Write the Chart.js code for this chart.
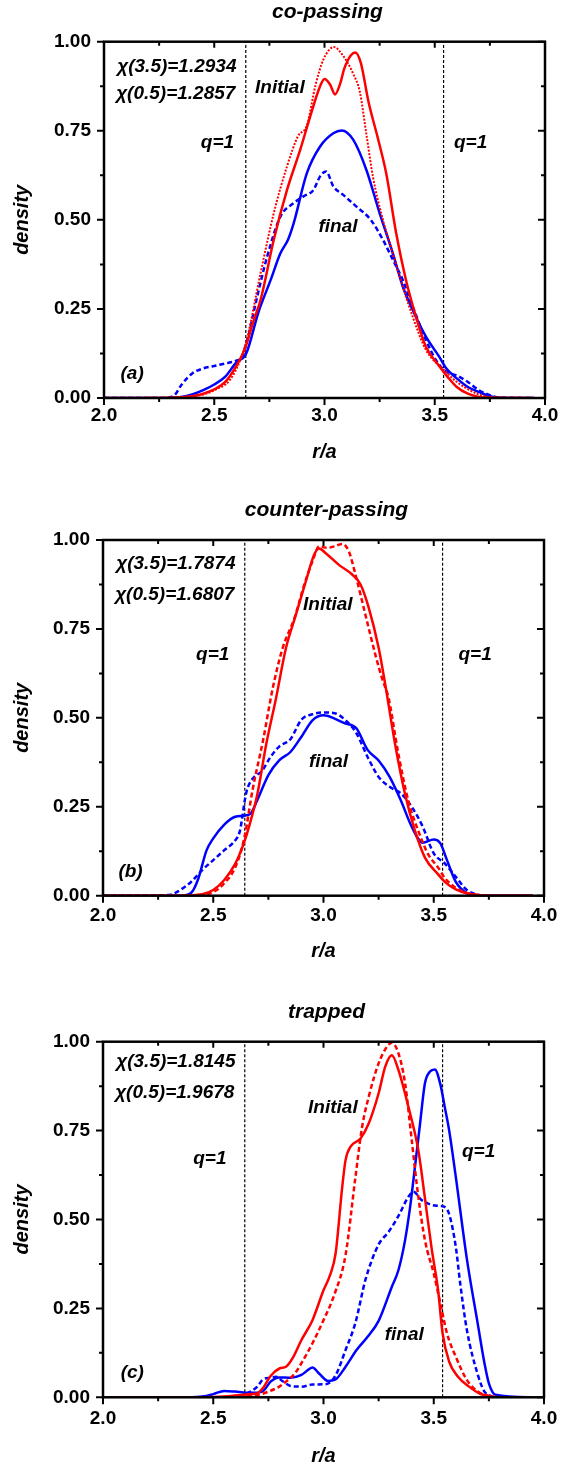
<!DOCTYPE html>
<html>
<head>
<meta charset="utf-8">
<script src="https://cdn.jsdelivr.net/npm/chart.js@4.4.0/dist/chart.umd.min.js"></script>
<style>
  body { margin: 0; background: #fff; }
  #wrap { position: relative; width: 575px; height: 1466px; }
  canvas { position: absolute; left: 0; }
</style>
</head>
<body>
<div id="wrap">
  <canvas id="pa" width="575" height="490" style="top:0px"></canvas>
  <canvas id="pb" width="575" height="490" style="top:490px"></canvas>
  <canvas id="pc" width="575" height="486" style="top:980px"></canvas>
</div>
<script>
// ---- data (r/a, density) ----
var panelTitles = ['co-passing', 'counter-passing', 'trapped'];
var panelTags = ['(a)', '(b)', '(c)'];
var chi35 = ['1.2934', '1.7874', '1.8145'];
var chi05 = ['1.2857', '1.6807', '1.9678'];
var qOneR = [2.643, 3.54];
var xTicks = [2.0, 2.5, 3.0, 3.5, 4.0];
var yTicks = [0.00, 0.25, 0.50, 0.75, 1.00];

// (a) co-passing
var aRedSolidR = [2.0, 2.3, 2.4, 2.45, 2.5, 2.55, 2.6, 2.64, 2.68, 2.71, 2.77, 2.83, 2.89, 2.935, 2.98, 3.0, 3.025, 3.048, 3.07, 3.09, 3.12, 3.14, 3.165, 3.2, 3.24, 3.28, 3.325, 3.37, 3.415, 3.46, 3.52, 3.56, 3.6, 3.65, 3.7, 3.75, 3.95];
var aRedSolidD = [0, 0.001, 0.005, 0.012, 0.024, 0.045, 0.09, 0.14, 0.22, 0.275, 0.444, 0.584, 0.697, 0.79, 0.875, 0.895, 0.88, 0.852, 0.88, 0.925, 0.962, 0.97, 0.94, 0.83, 0.734, 0.63, 0.463, 0.33, 0.228, 0.144, 0.09, 0.058, 0.031, 0.012, 0.003, 0.001, 0];
var aRedDotR = [2.0, 2.3, 2.4, 2.45, 2.5, 2.57, 2.62, 2.65, 2.71, 2.77, 2.83, 2.88, 2.92, 2.96, 2.995, 3.043, 3.085, 3.13, 3.16, 3.19, 3.22, 3.265, 3.31, 3.355, 3.4, 3.46, 3.54, 3.6, 3.65, 3.7, 3.75, 3.95];
var aRedDotD = [0, 0.001, 0.005, 0.01, 0.022, 0.05, 0.11, 0.17, 0.35, 0.519, 0.65, 0.735, 0.765, 0.88, 0.95, 0.985, 0.96, 0.91, 0.86, 0.74, 0.62, 0.5, 0.406, 0.313, 0.228, 0.135, 0.08, 0.045, 0.025, 0.01, 0.003, 0];
var aBlueSolidR = [2.0, 2.25, 2.35, 2.4, 2.45, 2.5, 2.55, 2.6, 2.645, 2.7, 2.755, 2.8, 2.835, 2.86, 2.92, 2.98, 3.04, 3.078, 3.13, 3.19, 3.25, 3.31, 3.355, 3.4, 3.46, 3.52, 3.55, 3.6, 3.65, 3.7, 3.75, 3.8, 3.95];
var aBlueSolidD = [0, 0, 0.003, 0.01, 0.022, 0.038, 0.06, 0.1, 0.125, 0.24, 0.33, 0.406, 0.445, 0.49, 0.631, 0.706, 0.743, 0.751, 0.725, 0.64, 0.519, 0.406, 0.313, 0.247, 0.172, 0.116, 0.085, 0.055, 0.031, 0.017, 0.005, 0.001, 0];
var aBlueDashR = [2.0, 2.27, 2.32, 2.35, 2.4, 2.45, 2.5, 2.55, 2.6, 2.625, 2.65, 2.695, 2.74, 2.8, 2.86, 2.905, 2.95, 2.98, 3.007, 3.04, 3.085, 3.145, 3.21, 3.265, 3.31, 3.355, 3.4, 3.46, 3.505, 3.55, 3.6, 3.65, 3.7, 3.75, 3.8, 3.95];
var aBlueDashD = [0, 0, 0.008, 0.036, 0.069, 0.083, 0.09, 0.097, 0.105, 0.115, 0.163, 0.285, 0.397, 0.509, 0.547, 0.566, 0.584, 0.622, 0.636, 0.594, 0.57, 0.537, 0.5, 0.444, 0.388, 0.331, 0.257, 0.163, 0.107, 0.075, 0.063, 0.045, 0.022, 0.008, 0.001, 0];

// (b) counter-passing
var bRedSolidR = [2.0, 2.35, 2.45, 2.5, 2.55, 2.6, 2.64, 2.665, 2.7, 2.74, 2.785, 2.83, 2.875, 2.92, 2.958, 2.98, 3.01, 3.07, 3.13, 3.168, 3.205, 3.25, 3.28, 3.325, 3.37, 3.415, 3.46, 3.52, 3.55, 3.6, 3.65, 3.7, 3.75, 3.95];
var bRedSolidD = [0, 0, 0.004, 0.016, 0.044, 0.09, 0.15, 0.2, 0.285, 0.425, 0.556, 0.697, 0.79, 0.884, 0.959, 0.976, 0.963, 0.93, 0.903, 0.875, 0.81, 0.697, 0.594, 0.425, 0.285, 0.182, 0.107, 0.06, 0.039, 0.018, 0.007, 0.002, 0, 0];
var bRedDashR = [2.0, 2.35, 2.45, 2.5, 2.55, 2.6, 2.64, 2.68, 2.725, 2.77, 2.815, 2.868, 2.913, 2.95, 2.98, 3.018, 3.048, 3.085, 3.115, 3.145, 3.19, 3.235, 3.265, 3.295, 3.34, 3.385, 3.43, 3.475, 3.52, 3.55, 3.6, 3.65, 3.7, 3.75, 3.95];
var bRedDashD = [0, 0, 0.002, 0.01, 0.035, 0.08, 0.16, 0.303, 0.434, 0.584, 0.697, 0.78, 0.875, 0.94, 0.982, 0.978, 0.982, 0.989, 0.968, 0.903, 0.79, 0.678, 0.612, 0.556, 0.397, 0.266, 0.182, 0.116, 0.079, 0.05, 0.022, 0.008, 0.002, 0, 0];
var bBlueSolidR = [2.0, 2.35, 2.4, 2.43, 2.47, 2.5, 2.55, 2.6, 2.64, 2.67, 2.7, 2.75, 2.8, 2.85, 2.9, 2.95, 3.0, 3.05, 3.1, 3.13, 3.15, 3.2, 3.25, 3.3, 3.35, 3.4, 3.45, 3.5, 3.53, 3.56, 3.6, 3.65, 3.7, 3.95];
var bBlueSolidD = [0, 0, 0.008, 0.044, 0.128, 0.161, 0.2, 0.222, 0.225, 0.231, 0.269, 0.339, 0.381, 0.404, 0.447, 0.493, 0.507, 0.498, 0.484, 0.479, 0.47, 0.41, 0.38, 0.334, 0.269, 0.194, 0.149, 0.158, 0.147, 0.1, 0.039, 0.007, 0, 0];
var bBlueDashR = [2.0, 2.3, 2.35, 2.4, 2.45, 2.5, 2.55, 2.6, 2.62, 2.65, 2.68, 2.72, 2.76, 2.8, 2.85, 2.9, 2.95, 3.0, 3.05, 3.1, 3.15, 3.2, 3.25, 3.3, 3.35, 3.4, 3.45, 3.5, 3.55, 3.6, 3.65, 3.7, 3.75, 3.95];
var bBlueDashD = [0, 0.002, 0.016, 0.039, 0.072, 0.1, 0.128, 0.156, 0.18, 0.29, 0.33, 0.35, 0.39, 0.42, 0.44, 0.495, 0.51, 0.515, 0.513, 0.493, 0.456, 0.39, 0.334, 0.306, 0.288, 0.25, 0.194, 0.119, 0.091, 0.053, 0.016, 0.003, 0, 0];

// (c) trapped
var cRedSolidR = [2.0, 2.45, 2.55, 2.65, 2.7, 2.73, 2.76, 2.8, 2.83, 2.86, 2.9, 2.95, 3.0, 3.03, 3.055, 3.085, 3.1, 3.123, 3.168, 3.205, 3.25, 3.28, 3.31, 3.34, 3.385, 3.43, 3.46, 3.49, 3.52, 3.54, 3.57, 3.61, 3.66, 3.71, 3.76, 3.8, 3.95];
var cRedSolidD = [0, 0, 0.002, 0.008, 0.011, 0.03, 0.06, 0.081, 0.086, 0.11, 0.161, 0.217, 0.301, 0.344, 0.405, 0.592, 0.667, 0.705, 0.728, 0.77, 0.855, 0.93, 0.962, 0.92, 0.817, 0.695, 0.56, 0.42, 0.3, 0.18, 0.1, 0.058, 0.03, 0.01, 0.002, 0, 0];
var cRedDashR = [2.0, 2.5, 2.6, 2.7, 2.75, 2.8, 2.83, 2.87, 2.9, 2.95, 3.0, 3.05, 3.1, 3.145, 3.175, 3.205, 3.25, 3.288, 3.31, 3.34, 3.37, 3.4, 3.43, 3.46, 3.5, 3.53, 3.56, 3.6, 3.65, 3.7, 3.75, 3.8, 3.95];
var cRedDashD = [0, 0, 0.002, 0.006, 0.016, 0.03, 0.044, 0.067, 0.096, 0.152, 0.217, 0.29, 0.4, 0.62, 0.76, 0.845, 0.939, 0.986, 0.997, 0.967, 0.883, 0.724, 0.564, 0.442, 0.348, 0.264, 0.18, 0.114, 0.049, 0.016, 0.004, 0, 0];
var cBlueSolidR = [2.0, 2.4, 2.45, 2.5, 2.55, 2.6, 2.65, 2.7, 2.73, 2.76, 2.8, 2.85, 2.9, 2.93, 2.95, 2.98, 3.02, 3.06, 3.1, 3.15, 3.2, 3.25, 3.31, 3.34, 3.37, 3.393, 3.415, 3.438, 3.46, 3.483, 3.505, 3.53, 3.55, 3.57, 3.6, 3.65, 3.7, 3.73, 3.75, 3.78, 3.95];
var cBlueSolidD = [0, 0, 0.002, 0.009, 0.018, 0.016, 0.013, 0.013, 0.02, 0.044, 0.056, 0.055, 0.063, 0.077, 0.084, 0.067, 0.046, 0.053, 0.086, 0.133, 0.17, 0.215, 0.311, 0.358, 0.442, 0.536, 0.649, 0.77, 0.883, 0.916, 0.922, 0.88, 0.816, 0.75, 0.62, 0.39, 0.205, 0.096, 0.039, 0.007, 0];
var cBlueDashR = [2.0, 2.55, 2.6, 2.65, 2.7, 2.725, 2.76, 2.785, 2.815, 2.85, 2.9, 2.95, 3.01, 3.055, 3.1, 3.145, 3.19, 3.25, 3.295, 3.34, 3.385, 3.408, 3.445, 3.49, 3.53, 3.55, 3.57, 3.6, 3.62, 3.65, 3.7, 3.73, 3.75, 3.78, 3.95];
var cBlueDashD = [0, 0, 0.003, 0.01, 0.03, 0.05, 0.055, 0.058, 0.045, 0.032, 0.03, 0.036, 0.037, 0.062, 0.133, 0.21, 0.33, 0.43, 0.465, 0.51, 0.564, 0.578, 0.555, 0.541, 0.538, 0.535, 0.515, 0.423, 0.32, 0.19, 0.063, 0.016, 0.007, 0, 0];

// ---- drawing ----
var FAM = '"Liberation Sans", Arial, sans-serif';
var RED = '#ff0000', BLUE = '#0000ff';
Chart.defaults.font.family = FAM;

function pairs(r, d) {
  return r.map(function(v, i) { return { x: v, y: d[i] }; });
}

function line(r, d, color, dash, width) {
  return {
    data: pairs(r, d), borderColor: color, borderWidth: width || 2.5,
    borderDash: dash || [], pointRadius: 0, fill: false,
    cubicInterpolationMode: 'monotone', tension: 0.4
  };
}

// box, mirrored ticks, title and the in-plot notes
function framePlugin(p) {
  return {
    id: 'frame',
    afterDatasetsDraw: function(chart) {
      var ctx = chart.ctx, a = chart.chartArea;
      var xs = chart.scales.x, ys = chart.scales.y;
      ctx.save();
      ctx.strokeStyle = '#000';
      ctx.lineWidth = 2;
      ctx.beginPath();
      for (var i = 0; i <= 8; i++) {
        var px = xs.getPixelForValue(2 + i * 0.25);
        var maj = i % 2 === 0;
        ctx.moveTo(px, a.bottom); ctx.lineTo(px, a.bottom + (maj ? 7 : 4));
        ctx.moveTo(px, a.top); ctx.lineTo(px, a.top + (maj ? 6 : 4));
      }
      for (var j = 0; j <= 8; j++) {
        var py = ys.getPixelForValue(j * 0.125);
        var majY = j % 2 === 0;
        ctx.moveTo(a.left, py); ctx.lineTo(a.left - (majY ? 7 : 4), py);
        ctx.moveTo(a.right, py); ctx.lineTo(a.right - (majY ? 7 : 4), py);
      }
      ctx.stroke();
      ctx.lineWidth = 2.5;
      ctx.strokeRect(a.left, a.top, a.right - a.left, a.bottom - a.top);

      ctx.fillStyle = '#000';
      ctx.textBaseline = 'middle';
      ctx.font = 'italic bold 21px ' + FAM;
      ctx.textAlign = 'center';
      ctx.fillText(p.title, (a.left + a.right) / 2 + 3, a.top - 29.5);

      ctx.font = 'italic bold 19px ' + FAM;
      p.notes.forEach(function(n) {
        ctx.textAlign = n.align;
        ctx.fillText(n.text, xs.getPixelForValue(n.r), ys.getPixelForValue(n.d));
      });
      ctx.restore();
    }
  };
}

function makePanel(id, k, series, layout, spots) {
  var ds = series.slice();
  qOneR.forEach(function(q) {
    ds.push({ data: [{ x: q, y: 0 }, { x: q, y: 1 }], borderColor: '#000', borderWidth: 1.2,
              borderDash: [3, 2], pointRadius: 0, tension: 0 });
  });
  var notes = [
    { text: '\u03c7(3.5)=' + chi35[k], r: 2.06, d: spots.chi35, align: 'left' },
    { text: '\u03c7(0.5)=' + chi05[k], r: 2.055, d: spots.chi05, align: 'left' },
    { text: 'Initial', r: spots.initR, d: spots.initD, align: 'left' },
    { text: 'q=1', r: spots.qlR, d: spots.qlD, align: 'right' },
    { text: 'q=1', r: spots.qrR, d: spots.qrD, align: 'left' },
    { text: 'final', r: spots.finR, d: spots.finD, align: 'center' },
    { text: panelTags[k], r: spots.tagR, d: 0.068, align: 'left' }
  ];
  var tickFont = { family: FAM, size: 19, weight: 'bold' };
  var axisFont = { family: FAM, size: 20, weight: 'bold', style: 'italic', lineHeight: 1 };
  new Chart(document.getElementById(id), {
    type: 'line',
    data: { datasets: ds },
    options: {
      responsive: false, animation: false, events: [],
      layout: { padding: { top: layout.top, left: 0, right: 575 - layout.right, bottom: layout.bottomPad } },
      plugins: { legend: { display: false }, tooltip: { enabled: false } },
      scales: {
        x: {
          type: 'linear', min: 2, max: 4,
          afterFit: function(s) { s.height = layout.xH; },
          afterBuildTicks: function(s) { s.ticks = xTicks.map(function(v) { return { value: v }; }); },
          grid: { display: false, drawTicks: false }, border: { display: false },
          ticks: { autoSkip: false, maxRotation: 0, padding: layout.xPad, color: '#000', font: tickFont,
                   callback: function(v) { return Number(v).toFixed(1); } },
          title: { display: true, text: 'r/a', color: '#000', font: axisFont, padding: { top: 0, bottom: layout.rPad } }
        },
        y: {
          min: 0, max: 1,
          afterFit: function(s) { s.width = layout.left; },
          afterBuildTicks: function(s) { s.ticks = yTicks.map(function(v) { return { value: v }; }); },
          grid: { display: false, drawTicks: false }, border: { display: false },
          ticks: { padding: 13, color: '#000', font: tickFont,
                   callback: function(v) { return Number(v).toFixed(2); } },
          title: { display: true, text: 'density', color: '#000', font: axisFont, padding: { top: 12, bottom: 0 } }
        }
      }
    },
    plugins: [framePlugin({ title: panelTitles[k], notes: notes })]
  });
}

makePanel('pa', 0, [
  line(aRedSolidR, aRedSolidD, RED),
  line(aRedDotR, aRedDotD, RED, [2, 1.5], 2),
  line(aBlueSolidR, aBlueSolidD, BLUE),
  line(aBlueDashR, aBlueDashD, BLUE, [5, 3])
], { top: 41.7, left: 104, right: 545, xH: 70, bottomPad: 22, xPad: 6, rPad: 6 },
{ chi35: 0.93, chi05: 0.855, initR: 2.685, initD: 0.871, qlR: 2.59, qlD: 0.715, qrR: 3.587, qrD: 0.715,
  finR: 3.061, finD: 0.481, tagR: 2.075 });

makePanel('pb', 1, [
  line(bRedSolidR, bRedSolidD, RED),
  line(bRedDashR, bRedDashD, RED, [5, 3]),
  line(bBlueSolidR, bBlueSolidD, BLUE),
  line(bBlueDashR, bBlueDashD, BLUE, [5, 3])
], { top: 50, left: 103, right: 544, xH: 70, bottomPad: 14.3, xPad: 9, rPad: 4 },
{ chi35: 0.9325, chi05: 0.845, initR: 2.907, initD: 0.817, qlR: 2.573, qlD: 0.677, qrR: 3.612, qrD: 0.677,
  finR: 3.023, finD: 0.377, tagR: 2.07 });

makePanel('pc', 2, [
  line(cRedSolidR, cRedSolidD, RED),
  line(cRedDashR, cRedDashD, RED, [5, 3]),
  line(cBlueSolidR, cBlueSolidD, BLUE),
  line(cBlueDashR, cBlueDashD, BLUE, [5, 3])
], { top: 61.7, left: 103, right: 544, xH: 68.7, bottomPad: 0, xPad: 10, rPad: 0 },
{ chi35: 0.944, chi05: 0.855, initR: 2.93, initD: 0.813, qlR: 2.56, qlD: 0.672, qrR: 3.628, qrD: 0.691,
  finR: 3.366, finD: 0.175, tagR: 2.08 });
</script>
</body>
</html>
